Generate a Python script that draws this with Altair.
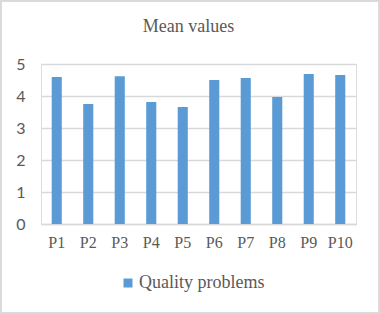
import altair as alt
import pandas as pd

categories = ["P1", "P2", "P3", "P4", "P5", "P6", "P7", "P8", "P9", "P10"]
values = [4.59, 3.75, 4.62, 3.81, 3.66, 4.50, 4.56, 3.97, 4.69, 4.66]
series = ["Quality problems"] * len(categories)

df = pd.DataFrame({"cat": categories, "val": values, "series": series})

bars = alt.Chart(df).mark_bar(color="#5B9BD5").encode(
    x=alt.X("cat:N", sort=categories, title=None,
            scale=alt.Scale(paddingInner=0.68, paddingOuter=0.34),
            axis=alt.Axis(labelAngle=0, labelFont="Liberation Serif", labelFontSize=16,
                          labelColor="#595959", labelPadding=10, ticks=False,
                          domainColor="#D9D9D9", domainWidth=1.3)),
    y=alt.Y("val:Q", title=None,
            scale=alt.Scale(domain=[0, 5]),
            axis=alt.Axis(values=[0, 1, 2, 3, 4, 5], labelFont="Lato", labelFontSize=16,
                          labelColor="#595959", labelPadding=16, ticks=False, domain=False,
                          gridColor="#D9D9D9", gridWidth=1.3)),
    fill=alt.Fill("series:N", scale=alt.Scale(range=["#5B9BD5"]),
                  legend=alt.Legend(title=None, orient="none", legendX=78, legendY=210,
                                    symbolType="square", symbolSize=81,
                                    symbolStrokeWidth=0,
                                    labelFont="Liberation Serif", labelFontSize=18,
                                    labelColor="#595959", labelOffset=2)),
)

border = alt.Chart(df).mark_rect(fill=None, stroke="#D9D9D9", strokeWidth=1.5, clip=False).encode(
    x=alt.value(-40.5), x2=alt.value(338.5), y=alt.value(-63.5), y2=alt.value(249.5)
)

chart = alt.layer(bars, border).properties(
    width=315, height=160,
    title=alt.TitleParams("Mean values", font="Liberation Serif", fontSize=18,
                          fontWeight="normal", color="#595959", anchor="middle",
                          dx=-10, offset=-36.5),
    autosize=alt.AutoSizeParams(type="none"),
    padding={"left": 41, "top": 64, "right": 24, "bottom": 90},
).configure_view(stroke=None).configure(background="white")

chart.save("out.html", embed_options={"renderer": "svg", "actions": False})
